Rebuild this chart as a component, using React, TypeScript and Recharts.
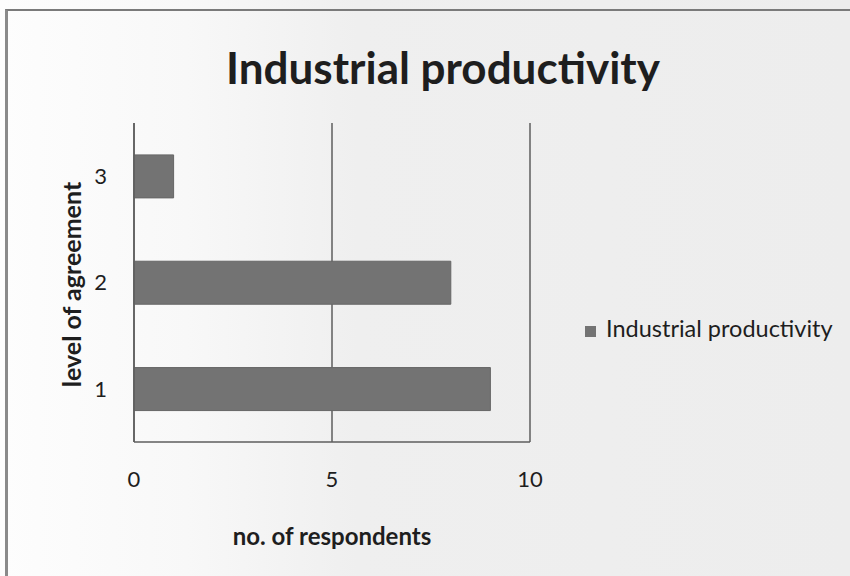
import { Bar, BarChart, CartesianGrid, Label, Legend, XAxis, YAxis } from 'recharts';

const levels = ['1', '2', '3'];
const respondents = [9, 8, 1];
const xTicks = [0, 5, 10];

const data = levels.map((level, i) => ({ level, value: respondents[i] }));

const FONT = 'Lato, "Open Sans", sans-serif';
const INK = '#1e1e1e';
const LINE = '#5e5e5e';

export default function App() {
  return (
    <div
      style={{
        position: 'absolute',
        left: 0,
        top: 0,
        width: 850,
        height: 576,
        overflow: 'hidden',
        background: 'linear-gradient(90deg, #fdfdfd 0%, #f8f8f8 22%, #efefef 42%, #ededed 100%)',
        fontFamily: FONT,
      }}
    >
      {/* frame edges (top and left only) */}
      <div
        style={{
          position: 'absolute',
          left: 5,
          top: 9,
          width: 860,
          height: 570,
          borderTop: '2px solid #7a7a7a',
          borderLeft: '3px solid #8a8a8a',
          boxSizing: 'border-box',
        }}
      />
      <div
        style={{
          position: 'absolute',
          left: 0,
          width: 886,
          top: 44,
          textAlign: 'center',
          fontSize: 44,
          fontWeight: 700,
          color: INK,
          lineHeight: '46px',
        }}
      >
        Industrial productivity
      </div>
      <BarChart
        width={850}
        height={576}
        data={data}
        layout="vertical"
        barCategoryGap="30%"
        margin={{ top: 123, right: 55, bottom: 0, left: 0 }}
        style={{ position: 'absolute', left: 0, top: 0 }}
      >
        <CartesianGrid horizontal={false} stroke={LINE} strokeWidth={1.5} />
        <XAxis
          type="number"
          domain={[0, 10]}
          ticks={xTicks}
          height={134}
          tickLine={false}
          tickSize={0}
          tickMargin={29}
          stroke={LINE}
          strokeWidth={1.5}
          tick={{ fill: INK, fontSize: 22, fontFamily: FONT }}
        >
          <Label
            content={({ viewBox }: any) => (
              <text
                x={viewBox.x + viewBox.width / 2}
                y={viewBox.y + 103}
                textAnchor="middle"
                fontSize={24}
                fontWeight={700}
                fill={INK}
                fontFamily={FONT}
              >
                no. of respondents
              </text>
            )}
          />
        </XAxis>
        <YAxis
          type="category"
          dataKey="level"
          reversed
          width={134}
          tickLine={false}
          tickSize={0}
          tickMargin={27}
          stroke={LINE}
          strokeWidth={1.5}
          tick={{ fill: INK, fontSize: 22, fontFamily: FONT }}
        >
          <Label
            content={({ viewBox }: any) => {
              const cy = viewBox.y + viewBox.height / 2 + 2;
              return (
                <text
                  x={71}
                  y={cy}
                  transform={`rotate(-90 71 ${cy})`}
                  textAnchor="middle"
                  dominantBaseline="central"
                  fontSize={25}
                  fontWeight={700}
                  fill={INK}
                  fontFamily={FONT}
                >
                  level of agreement
                </text>
              );
            }}
          />
        </YAxis>
        <Legend
          layout="vertical"
          align="right"
          verticalAlign="middle"
          iconType="square"
          iconSize={11}
          wrapperStyle={{ left: 585, top: 314, width: 265, fontSize: 23.5, fontFamily: FONT }}
          formatter={(v: string) => <span style={{ color: INK, marginLeft: 6 }}>{v}</span>}
        />
        <Bar
          dataKey="value"
          name="Industrial productivity"
          fill="#737373"
          stroke="#666666"
          isAnimationActive={false}
        />
      </BarChart>
    </div>
  );
}
